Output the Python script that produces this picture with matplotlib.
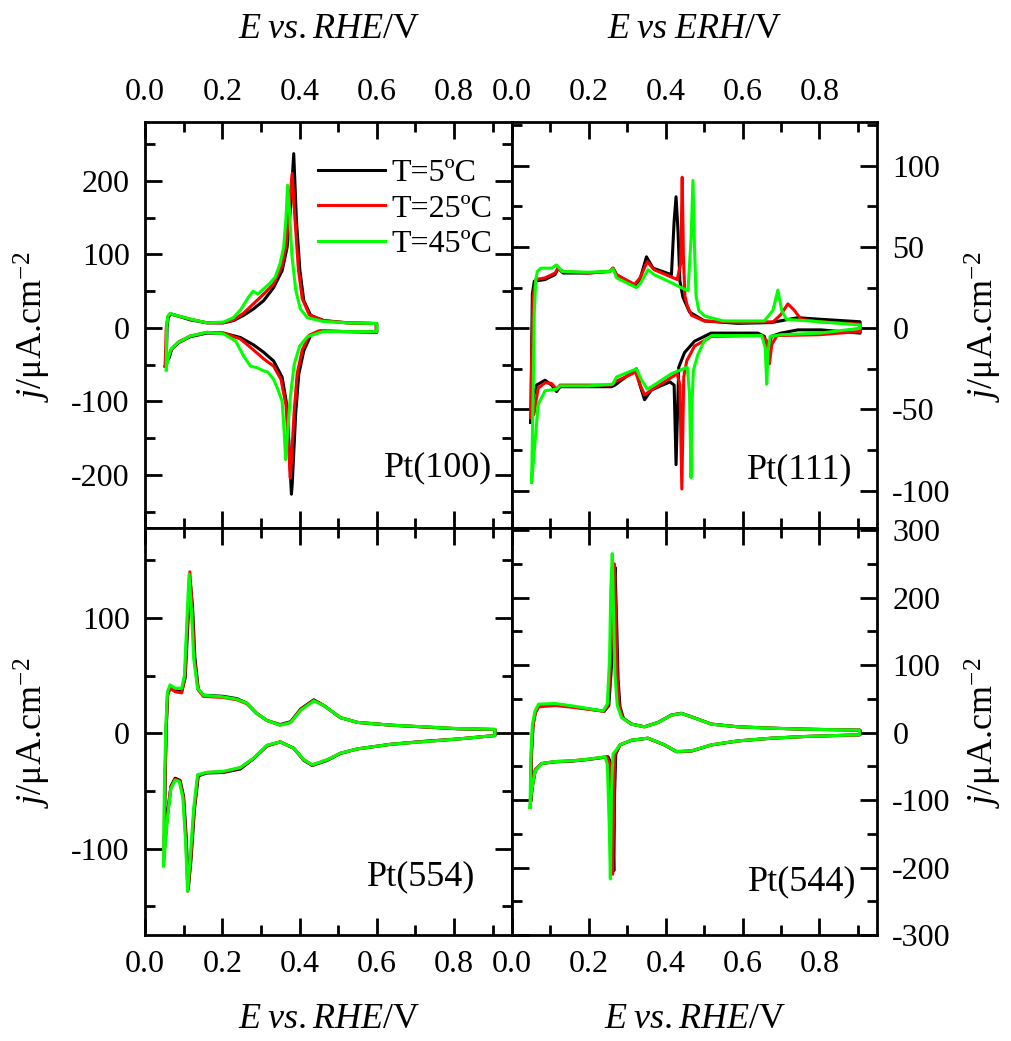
import matplotlib
matplotlib.use('Agg')
import matplotlib.pyplot as plt
from matplotlib.ticker import MultipleLocator

plt.rcParams['font.family'] = 'Liberation Serif'
plt.rcParams['mathtext.fontset'] = 'custom'
plt.rcParams['mathtext.rm'] = 'Liberation Serif'
plt.rcParams['mathtext.it'] = 'Liberation Serif:italic'
plt.rcParams['axes.unicode_minus'] = False

# voltammograms: positive-going sweep followed by negative-going sweep (E in V vs RHE, j in uA/cm2)
temps = ['T=5ºC', 'T=25ºC', 'T=45ºC']
colors = ['#000000', '#ff0000', '#00ff00']

# ---- Pt(100)
pt100_E_5 = [0.055, 0.057, 0.060, 0.066, 0.074, 0.117, 0.160, 0.203, 0.229, 0.255, 0.281, 0.307, 0.333, 0.355, 0.368, 0.377, 0.385, 0.392, 0.401, 0.411, 0.429, 0.463, 0.524, 0.600,
             0.600, 0.524, 0.455, 0.429, 0.411, 0.398, 0.390, 0.381, 0.379, 0.374, 0.368, 0.355, 0.333, 0.307, 0.281, 0.247, 0.203, 0.160, 0.117, 0.087, 0.069, 0.063, 0.055]
pt100_j_5 = [-48, 0, 14, 19, 18, 11, 7, 7, 10, 17, 26, 37, 55, 78, 110, 165, 237, 146, 78, 37, 17, 10, 7, 6,
             -6, -5, -4, -10, -31, -63, -117, -213, -226, -172, -108, -67, -45, -33, -23, -13, -7, -7, -12, -20, -29, -40, -48]
pt100_E_25 = [0.052, 0.055, 0.059, 0.066, 0.074, 0.117, 0.160, 0.203, 0.229, 0.255, 0.281, 0.307, 0.333, 0.355, 0.366, 0.374, 0.381, 0.388, 0.397, 0.407, 0.425, 0.460, 0.520, 0.598,
              0.598, 0.520, 0.450, 0.425, 0.407, 0.394, 0.386, 0.379, 0.376, 0.372, 0.365, 0.352, 0.333, 0.307, 0.281, 0.247, 0.203, 0.160, 0.117, 0.087, 0.069, 0.060, 0.052]
pt100_j_25 = [-52, 0, 15, 19, 18, 12, 7, 7, 11, 20, 33, 46, 60, 84, 115, 170, 210, 150, 80, 40, 18, 10, 7, 6,
              -5, -5, -4, -10, -30, -62, -115, -180, -204, -165, -105, -70, -52, -42, -30, -15, -7, -6, -11, -19, -28, -40, -52]
pt100_E_45 = [0.055, 0.056, 0.059, 0.065, 0.074, 0.117, 0.160, 0.203, 0.229, 0.248, 0.268, 0.280, 0.292, 0.307, 0.322, 0.337, 0.350, 0.359, 0.365, 0.369, 0.374, 0.380, 0.390, 0.402, 0.420, 0.460, 0.520, 0.600,
              0.600, 0.520, 0.460, 0.420, 0.400, 0.386, 0.376, 0.368, 0.364, 0.360, 0.355, 0.345, 0.333, 0.318, 0.305, 0.290, 0.273, 0.255, 0.235, 0.203, 0.160, 0.117, 0.085, 0.066, 0.058, 0.055]
pt100_j_45 = [-57, 0, 16, 20, 18, 12, 7, 8, 14, 25, 42, 50, 46, 53, 60, 69, 88, 110, 150, 194, 160, 100, 52, 26, 14, 9, 7, 6,
              -5, -5, -5, -12, -25, -50, -95, -150, -179, -140, -100, -85, -70, -60, -58, -54, -52, -38, -18, -8, -6, -11, -20, -30, -45, -57]

# ---- Pt(111)
pt111_E_5 = [0.049, 0.051, 0.053, 0.058, 0.086, 0.112, 0.120, 0.133, 0.198, 0.255, 0.263, 0.272, 0.319, 0.333, 0.350, 0.367, 0.415, 0.422, 0.427, 0.432, 0.437, 0.445, 0.462, 0.501, 0.588, 0.675, 0.744, 0.804, 0.906,
             0.906, 0.804, 0.744, 0.700, 0.675, 0.666, 0.657, 0.640, 0.518, 0.475, 0.449, 0.434, 0.427, 0.422, 0.411, 0.363, 0.345, 0.333, 0.324, 0.268, 0.259, 0.198, 0.125, 0.116, 0.103, 0.086, 0.064, 0.055, 0.049]
pt111_j_5 = [-58, -16, 21, 29, 30, 33, 37, 34, 34, 35, 37, 33, 26, 30, 44, 37, 33, 66, 81, 60, 29, 19, 10, 4.5, 3, 3.5, 6.5, 5.5, 4,
             -3, -1, -1, -3, -5, -15, -5, -3, -3, -8, -15, -24, -84, -35, -33, -38, -44, -35, -25, -35, -36, -36, -36, -39, -35, -32, -35, -43, -58]
pt111_E_25 = [0.049, 0.051, 0.055, 0.062, 0.086, 0.112, 0.120, 0.133, 0.198, 0.255, 0.263, 0.272, 0.319, 0.333, 0.352, 0.370, 0.430, 0.439, 0.443, 0.446, 0.450, 0.456, 0.467, 0.500, 0.600, 0.680, 0.700, 0.718, 0.735, 0.752, 0.800, 0.906,
              0.906, 0.800, 0.690, 0.676, 0.670, 0.664, 0.650, 0.520, 0.475, 0.455, 0.447, 0.442, 0.437, 0.430, 0.410, 0.363, 0.345, 0.330, 0.322, 0.268, 0.259, 0.198, 0.125, 0.116, 0.103, 0.086, 0.068, 0.057, 0.049]
pt111_j_25 = [-55, -20, 20, 30, 31, 34, 37, 35, 34, 35, 37, 33, 27, 31, 41, 36, 30, 40, 93, 45, 20, 14, 8, 4.5, 3.5, 4, 8.5, 15, 11, 5.5, 4, 2.5,
              -2, -4, -4.5, -10, -22, -8, -4.5, -5, -11, -20, -30, -99, -35, -28, -31, -38, -41, -33, -27, -33, -35, -35, -35, -37.5, -34, -33.5, -37, -53, -55]
pt111_E_45 = [0.051, 0.055, 0.058, 0.062, 0.066, 0.075, 0.103, 0.116, 0.130, 0.198, 0.255, 0.263, 0.272, 0.324, 0.335, 0.354, 0.370, 0.415, 0.458, 0.466, 0.471, 0.475, 0.479, 0.486, 0.501, 0.550, 0.657, 0.679, 0.692, 0.702, 0.714, 0.800, 0.906,
              0.906, 0.800, 0.700, 0.672, 0.666, 0.663, 0.659, 0.650, 0.520, 0.500, 0.484, 0.472, 0.468, 0.466, 0.462, 0.456, 0.415, 0.363, 0.352, 0.335, 0.324, 0.272, 0.262, 0.198, 0.125, 0.116, 0.086, 0.068, 0.061, 0.051]
pt111_j_45 = [-95, -40, 10, 30, 35, 37, 37, 39, 35, 34.5, 35, 36.5, 31, 25, 28, 36, 33, 28, 23, 55, 91, 50, 20, 11, 7.5, 4.5, 4.5, 11, 23.5, 11, 5.5, 4, 2,
              0, -3, -4, -5, -15, -34.5, -12, -4.5, -4.5, -8, -16, -26, -50, -92, -40, -24, -28, -36, -37.5, -31, -25, -30, -34.5, -35.5, -35.5, -37.5, -38.5, -47, -67, -95]

# ---- Pt(554)
pt554_E_5 = [0.050, 0.052, 0.055, 0.059, 0.066, 0.078, 0.095, 0.104, 0.111, 0.117, 0.123, 0.129, 0.138, 0.151, 0.203, 0.238, 0.264, 0.290, 0.316, 0.350, 0.377, 0.403, 0.437, 0.463, 0.506, 0.550, 0.636, 0.723, 0.810, 0.906,
             0.906, 0.810, 0.723, 0.636, 0.550, 0.506, 0.472, 0.433, 0.411, 0.385, 0.350, 0.316, 0.281, 0.247, 0.203, 0.160, 0.138, 0.128, 0.119, 0.112, 0.107, 0.100, 0.091, 0.078, 0.067, 0.058, 0.050]
pt554_j_5 = [-100, -45, 5, 34, 40, 37, 36, 48, 95, 132, 110, 66, 38, 33, 32, 30, 26, 17, 11, 7.5, 10, 21, 29, 24, 13.5, 9.4, 7, 5.4, 3.8, 3.2,
             -2, -5, -7, -9.6, -13.6, -17.5, -23.5, -28, -23.5, -13, -7.5, -11, -22, -31, -34, -34.5, -37, -66, -110, -135, -92, -55, -41, -39, -46, -70, -100]
pt554_E_25 = [0.049, 0.051, 0.055, 0.058, 0.065, 0.078, 0.095, 0.103, 0.110, 0.116, 0.122, 0.128, 0.137, 0.151, 0.203, 0.238, 0.264, 0.290, 0.316, 0.350, 0.377, 0.403, 0.437, 0.463, 0.506, 0.550, 0.636, 0.723, 0.810, 0.906,
              0.906, 0.810, 0.723, 0.636, 0.550, 0.506, 0.472, 0.433, 0.411, 0.385, 0.350, 0.316, 0.281, 0.247, 0.203, 0.160, 0.137, 0.127, 0.118, 0.111, 0.106, 0.099, 0.090, 0.078, 0.067, 0.058, 0.049]
pt554_j_25 = [-108, -48, 6, 33, 39, 36, 35, 49, 97, 140, 109, 64, 38, 32, 31, 29, 25.5, 17, 11, 7, 9.5, 20.5, 28.5, 24, 13.5, 9.4, 7, 5.5, 4, 3.3,
              -2, -5, -7.2, -9.6, -13.6, -17.3, -23, -27.6, -23, -13, -7.5, -10.6, -21.8, -30, -33.5, -34, -36.5, -66, -110, -137, -93, -55, -41.5, -40, -47, -72, -108]
pt554_E_45 = [0.048, 0.050, 0.054, 0.058, 0.065, 0.078, 0.095, 0.102, 0.108, 0.114, 0.120, 0.126, 0.136, 0.151, 0.203, 0.238, 0.264, 0.290, 0.316, 0.350, 0.377, 0.403, 0.437, 0.463, 0.506, 0.550, 0.636, 0.723, 0.810, 0.906,
              0.906, 0.810, 0.723, 0.636, 0.550, 0.506, 0.472, 0.433, 0.411, 0.385, 0.350, 0.316, 0.281, 0.247, 0.203, 0.160, 0.136, 0.126, 0.117, 0.110, 0.105, 0.098, 0.089, 0.078, 0.067, 0.058, 0.048]
pt554_j_45 = [-115, -50, 7, 36, 42, 39, 39, 50, 94, 138, 108, 65, 39, 33, 31.5, 29.5, 26, 17, 11, 7, 9.3, 20, 28, 24, 13.5, 9.4, 7, 5.6, 4, 3.4,
              -2, -5, -7.3, -9.6, -13.6, -17.3, -23, -27.4, -23, -13, -7.5, -10.4, -21.6, -29.7, -33, -34, -36, -65, -108, -137, -94, -56, -42, -40.6, -48, -74, -115]

# ---- Pt(544)
pt544_E_5 = [0.049, 0.051, 0.055, 0.061, 0.070, 0.112, 0.155, 0.198, 0.240, 0.252, 0.259, 0.264, 0.268, 0.272, 0.276, 0.281, 0.290, 0.311, 0.345, 0.380, 0.415, 0.441, 0.476, 0.519, 0.588, 0.675, 0.761, 0.906,
             0.906, 0.761, 0.675, 0.588, 0.519, 0.467, 0.428, 0.397, 0.354, 0.311, 0.281, 0.270, 0.267, 0.265, 0.262, 0.257, 0.250, 0.198, 0.155, 0.112, 0.077, 0.061, 0.053, 0.049]
pt544_j_5 = [-100, -30, 12, 30, 40, 41, 38.5, 35, 31.5, 40, 100, 200, 245, 170, 80, 38, 21, 12.5, 8.5, 15, 26, 28.5, 21.5, 12.5, 8.5, 6.5, 5, 3.5,
             -3.4, -6, -8.5, -12.5, -18.5, -27.5, -28.5, -18.5, -8.5, -11.5, -18.5, -32, -90, -205, -130, -45, -36, -40, -42.5, -43.5, -46, -55, -80, -100]
pt544_E_25 = [0.048, 0.050, 0.054, 0.060, 0.069, 0.112, 0.155, 0.198, 0.239, 0.250, 0.257, 0.262, 0.266, 0.270, 0.274, 0.279, 0.288, 0.311, 0.345, 0.380, 0.415, 0.441, 0.476, 0.519, 0.588, 0.675, 0.761, 0.905,
              0.905, 0.761, 0.675, 0.588, 0.519, 0.467, 0.428, 0.397, 0.354, 0.311, 0.281, 0.268, 0.265, 0.262, 0.259, 0.254, 0.247, 0.198, 0.155, 0.112, 0.077, 0.060, 0.052, 0.048]
pt544_j_25 = [-105, -32, 8, 28, 38, 40, 37.5, 34.5, 31.5, 40, 105, 205, 250, 175, 82, 39, 21.5, 12.4, 8.4, 14.8, 25.7, 28.3, 21.4, 12.4, 8.4, 6.4, 4.9, 3.5,
              -3.4, -5.9, -8.4, -12.4, -18.3, -27.2, -28.2, -18.3, -8.4, -11.4, -18.3, -32, -88, -210, -132, -46, -36, -39.6, -42, -43, -46, -56, -83, -105]
pt544_E_45 = [0.047, 0.049, 0.053, 0.060, 0.069, 0.112, 0.155, 0.198, 0.237, 0.248, 0.254, 0.257, 0.261, 0.264, 0.268, 0.274, 0.285, 0.311, 0.345, 0.380, 0.415, 0.441, 0.476, 0.519, 0.588, 0.675, 0.761, 0.904,
              0.904, 0.761, 0.675, 0.588, 0.519, 0.467, 0.428, 0.397, 0.354, 0.311, 0.281, 0.263, 0.259, 0.256, 0.253, 0.248, 0.242, 0.198, 0.155, 0.112, 0.077, 0.060, 0.051, 0.047]
pt544_j_45 = [-111, -37, 12, 32, 42, 43, 39.6, 35.6, 32, 42, 111, 210, 265, 185, 86, 40, 22, 12.3, 8.4, 14.8, 25.7, 28.2, 21.3, 12.3, 8.4, 6.4, 4.9, 3.5,
              -3.4, -5.9, -8.4, -12.4, -18.3, -27.2, -28.2, -18.3, -8.4, -11.4, -18.3, -32, -86, -217, -136, -47, -36, -39.6, -42, -43, -46, -57, -86, -111]

W, H = 1012, 1041
fig = plt.figure(figsize=(W / 100, H / 100), dpi=100)

# panel edges in pixels
x0, xm, x1 = 145, 512, 877
y0, ym, y1 = 122, 528, 935

def box(l, r, t, b):
    return [l / W, 1 - b / H, (r - l) / W, (b - t) / H]

panels = [
    dict(rect=box(x0, xm, y0, ym), name='Pt(100)', ylim=(-272, 280), ymaj=100, ymin=50,
         data=[(pt100_E_5, pt100_j_5), (pt100_E_25, pt100_j_25), (pt100_E_45, pt100_j_45)],
         xtop=True, yright=False, lab=(0.946, 0.148)),
    dict(rect=box(xm, x1, y0, ym), name='Pt(111)', ylim=(-123, 127), ymaj=50, ymin=25,
         data=[(pt111_E_5, pt111_j_5), (pt111_E_25, pt111_j_25), (pt111_E_45, pt111_j_45)],
         xtop=True, yright=True, lab=(0.932, 0.143)),
    dict(rect=box(x0, xm, ym, y1), name='Pt(554)', ylim=(-175, 178), ymaj=100, ymin=50,
         data=[(pt554_E_5, pt554_j_5), (pt554_E_25, pt554_j_25), (pt554_E_45, pt554_j_45)],
         xtop=False, yright=False, lab=(0.899, 0.142)),
    dict(rect=box(xm, x1, ym, y1), name='Pt(544)', ylim=(-300, 303), ymaj=100, ymin=50,
         data=[(pt544_E_5, pt544_j_5), (pt544_E_25, pt544_j_25), (pt544_E_45, pt544_j_45)],
         xtop=False, yright=True, lab=(0.945, 0.130)),
]

axes = []
for p in panels:
    ax = fig.add_axes(p['rect'])
    for (E, j), c, t in zip(p['data'], colors, temps):
        ax.plot(E, j, color=c, lw=2.2, label=t)
    ax.set_xlim(0, 0.95)
    ax.set_ylim(*p['ylim'])
    ax.xaxis.set_major_locator(MultipleLocator(0.2))
    ax.xaxis.set_minor_locator(MultipleLocator(0.1))
    ax.yaxis.set_major_locator(MultipleLocator(p['ymaj']))
    ax.yaxis.set_minor_locator(MultipleLocator(p['ymin']))
    ax.tick_params(which='both', direction='in', top=True, right=True, bottom=True, left=True,
                   width=2, labelsize=23, pad=11,
                   labeltop=p['xtop'], labelbottom=not p['xtop'],
                   labelright=p['yright'], labelleft=not p['yright'])
    ax.tick_params(which='major', length=12)
    ax.tick_params(which='minor', length=7)
    for s in ax.spines.values():
        s.set_linewidth(2)
    ax.text(p['lab'][0], p['lab'][1], p['name'], transform=ax.transAxes,
            ha='right', va='center', fontsize=26)
    axes.append(ax)

axes[0].legend(loc='upper right', bbox_to_anchor=(0.946, 0.91), frameon=False, fontsize=23,
               handlelength=2.1, handletextpad=0.2, labelspacing=0.2,
               borderpad=0, borderaxespad=0)

# axis titles (mathtext already pads after the period)
xc_left = (x0 + xm) / 2 / W
xc_right = (xm + x1) / 2 / W
lab_rhe = r'$\mathit{E\;vs.RHE}$/V'
fig.text(xc_left, 1 - 30 / H, lab_rhe, ha='center', va='center', fontsize=26)
fig.text(xc_right, 1 - 30 / H, r'$\mathit{E\;vs\;ERH}$/V', ha='center', va='center', fontsize=26)
fig.text(xc_left, 1 - 1020 / H, lab_rhe, ha='center', va='center', fontsize=26)
fig.text(xc_right, 1 - 1020 / H, lab_rhe, ha='center', va='center', fontsize=26)

ylab = r'$\mathit{j}$/μA.cm$^{-2}$'
for xx, yy in [(32, 327), (32, 733), (983, 327), (983, 733)]:
    fig.text(xx / W, 1 - yy / H, ylab, rotation=90, ha='center', va='center', fontsize=26)

fig.savefig('out.png', dpi=100)
